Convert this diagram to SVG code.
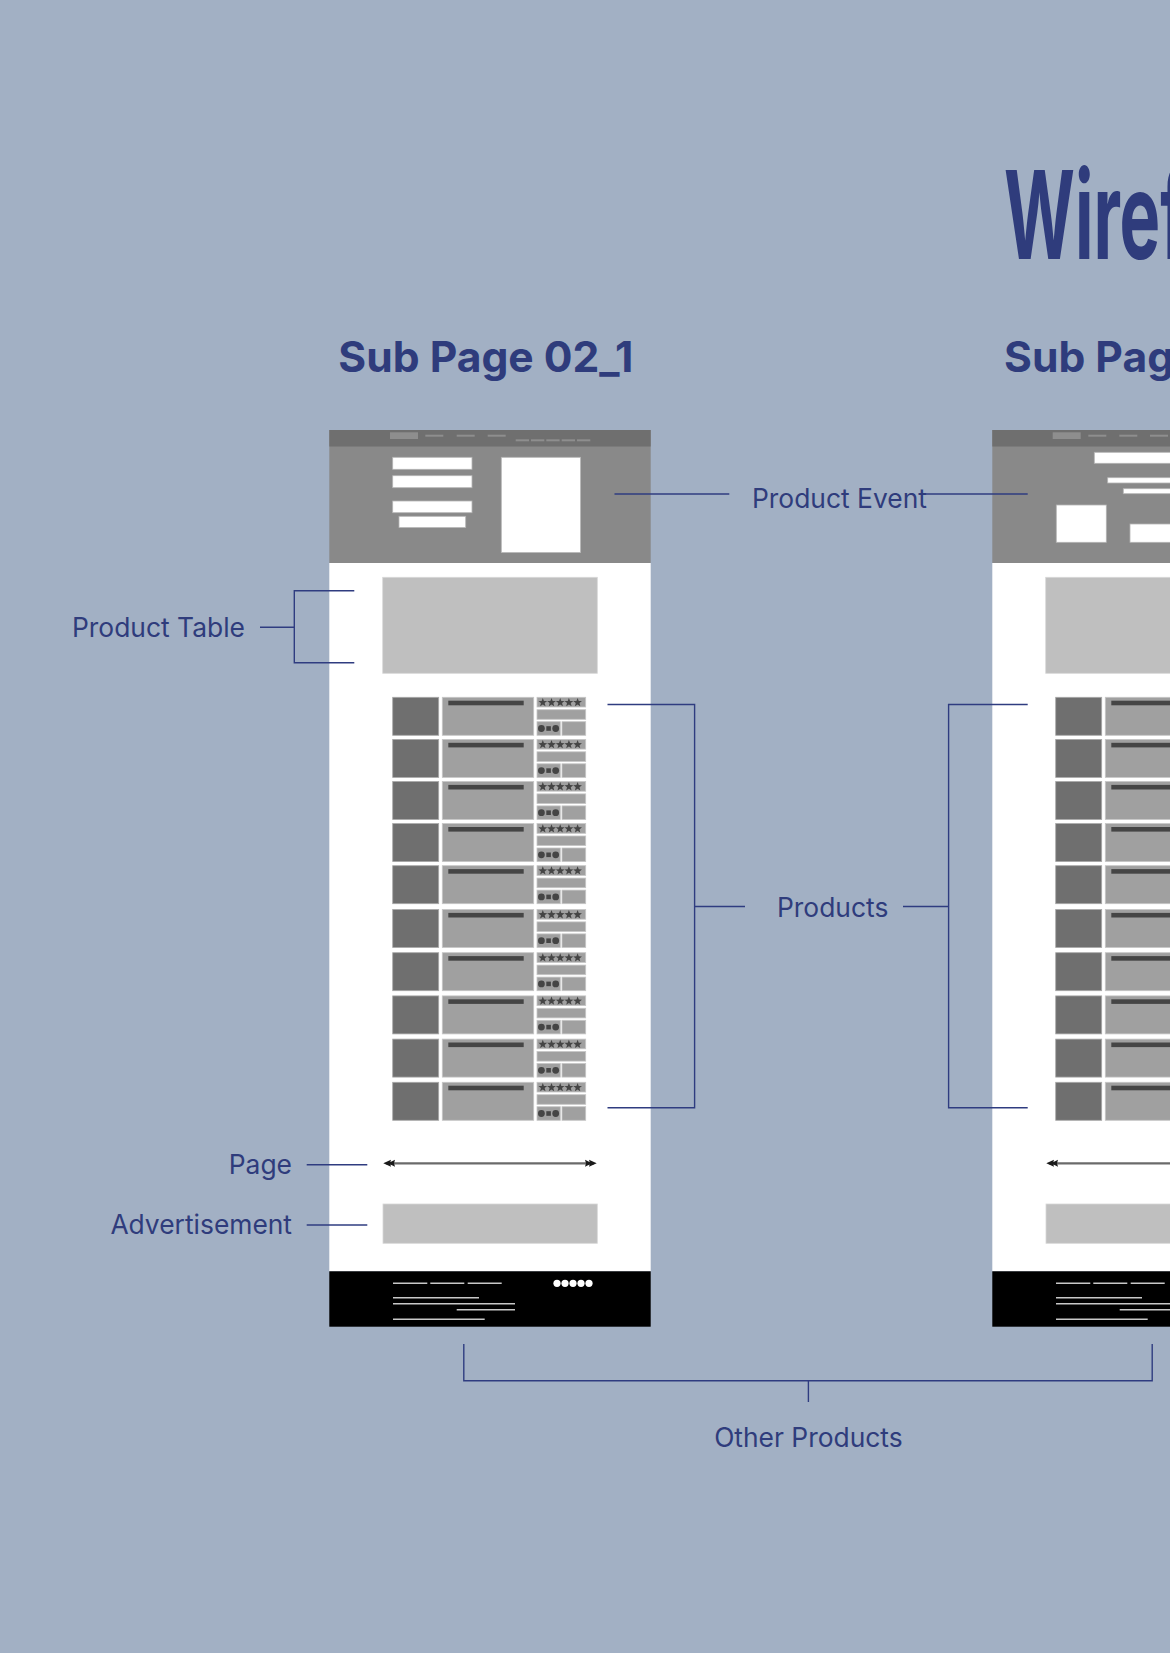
<svg xmlns="http://www.w3.org/2000/svg" xmlns:xlink="http://www.w3.org/1999/xlink" width="1170" height="1653" viewBox="0 0 1170 1653">
  <style>
    .title { font-family: Inter, "Liberation Sans", sans-serif; font-weight: 700; fill: #2f3c7c; }
    .label { font-family: Inter, "Liberation Sans", sans-serif; font-size: 26.4px; fill: #2f3c7c; }
    .conn { fill: none; stroke: #2f3c80; stroke-width: 1.4; }
    .white { fill: #ffffff; stroke: #b4b4b4; stroke-width: 0.8; }
    .thumb { fill: #6f6f6f; stroke: #a8a8a8; stroke-width: 0.8; }
    .cell { fill: #a0a0a0; stroke: #c6c6c6; stroke-width: 0.8; }
    .ink { fill: #454545; }
    .foot { stroke: #c8c8c8; stroke-width: 1.6; }
    .navbit { fill: #8e8e8e; }
  </style>
  <defs>
    <path id="star" d="M0,-4.6 L1.15,-1.59 L4.37,-1.43 L1.86,0.61 L2.7,3.72 L0,1.96 L-2.7,3.72 L-1.86,0.61 L-4.37,-1.43 L-1.15,-1.59 Z"/>
    <!-- one product line: thumbnail, title block, rating block -->
    <g id="row">
      <rect class="thumb" x="392.7" y="0" width="46" height="38"/>
      <rect class="cell" x="442.3" y="0" width="91.4" height="38"/>
      <rect class="ink" x="448.3" y="3.4" width="75.4" height="4.6"/>
      <rect class="cell" x="537" y="0" width="48.7" height="9.7"/>
      <use href="#star" x="542.8" y="5.2" class="ink"/>
      <use href="#star" x="551.5" y="5.2" class="ink"/>
      <use href="#star" x="560.2" y="5.2" class="ink"/>
      <use href="#star" x="568.9" y="5.2" class="ink"/>
      <use href="#star" x="577.6" y="5.2" class="ink"/>
      <rect class="cell" x="537" y="12.4" width="48.7" height="9.6"/>
      <rect class="cell" x="537" y="24.4" width="23.3" height="13.6"/>
      <circle class="ink" cx="541.4" cy="31.2" r="3.4"/>
      <rect class="ink" x="546.3" y="28.9" width="4.6" height="4.6"/>
      <circle class="ink" cx="555.7" cy="31.2" r="3.4"/>
      <rect class="cell" x="562" y="24.4" width="23.7" height="13.6"/>
    </g>
    <!-- page body below the header, drawn for the left page -->
    <g id="pagebody">
      <rect x="329.3" y="563" width="321.4" height="708.3" fill="#ffffff"/>
      <rect x="382.7" y="577.3" width="214.6" height="96" fill="#bfbfbf" stroke="#d8d8d8" stroke-width="0.8"/>
      <use href="#row" y="697.3"/>
      <use href="#row" y="739.4"/>
      <use href="#row" y="781.5"/>
      <use href="#row" y="823.6"/>
      <use href="#row" y="865.7"/>
      <use href="#row" y="909.5"/>
      <use href="#row" y="952.7"/>
      <use href="#row" y="995.9"/>
      <use href="#row" y="1039.1"/>
      <use href="#row" y="1082.3"/>
      <!-- pagination -->
      <line x1="386" y1="1163.3" x2="594" y2="1163.3" stroke="#6a6a6a" stroke-width="2.2"/>
      <path d="M383.3,1163.3 L391,1159.8 L390,1163.3 L391,1166.8 Z M388,1163.3 L395,1159.8 L394,1163.3 L395,1166.8 Z" fill="#1a1a1a"/>
      <path d="M596.7,1163.3 L589,1159.8 L590,1163.3 L589,1166.8 Z M592,1163.3 L585,1159.8 L586,1163.3 L585,1166.8 Z" fill="#1a1a1a"/>
      <!-- advertisement -->
      <rect x="383" y="1204" width="214.3" height="39.3" fill="#bfbfbf" stroke="#d8d8d8" stroke-width="0.8"/>
      <!-- footer -->
      <rect x="329.3" y="1271.3" width="321.4" height="55.4" fill="#000000"/>
      <g class="foot">
        <line x1="393" y1="1283.3" x2="427.3" y2="1283.3"/>
        <line x1="430.3" y1="1283.3" x2="464.3" y2="1283.3"/>
        <line x1="467.7" y1="1283.3" x2="501.7" y2="1283.3"/>
        <line x1="393" y1="1297.7" x2="479" y2="1297.7"/>
        <line x1="393" y1="1303.7" x2="515" y2="1303.7"/>
        <line x1="456.7" y1="1309.7" x2="515" y2="1309.7"/>
        <line x1="393" y1="1319.3" x2="484.7" y2="1319.3"/>
      </g>
      <g fill="#ffffff">
        <circle cx="557" cy="1283.3" r="3.6"/>
        <circle cx="565" cy="1283.3" r="3.6"/>
        <circle cx="573" cy="1283.3" r="3.6"/>
        <circle cx="581" cy="1283.3" r="3.6"/>
        <circle cx="589" cy="1283.3" r="3.6"/>
      </g>
    </g>
  </defs>

  <rect width="1170" height="1653" fill="#a2b0c4"/>

  <!-- headings -->
  <text class="title" x="0" y="259" font-size="122" transform="translate(1004 0) scale(0.56 1) translate(-1004 0)" dx="1004">Wireframe</text>
  <text class="title" x="338.3" y="372.3" font-size="42.6">Sub Page 02_1</text>
  <text class="title" x="1004" y="372.3" font-size="42.6">Sub Page 02_2</text>

  <!-- left page: Sub Page 02_1 -->
  <g id="page-02-1">
    <rect x="329.3" y="430" width="321.4" height="133" fill="#898989"/>
    <rect x="329.3" y="430" width="321.4" height="16.5" fill="#6f6f6f"/>
    <rect class="navbit" x="390" y="432.3" width="28" height="6.7"/>
    <rect class="navbit" x="425.3" y="434.7" width="18" height="2"/>
    <rect class="navbit" x="456.7" y="434.7" width="18" height="2"/>
    <rect class="navbit" x="487.7" y="434.7" width="18" height="2"/>
    <rect class="navbit" x="515.7" y="439.3" width="13.3" height="2"/>
    <rect class="navbit" x="531" y="439.3" width="13.3" height="2"/>
    <rect class="navbit" x="546.3" y="439.3" width="13.3" height="2"/>
    <rect class="navbit" x="561.7" y="439.3" width="13.3" height="2"/>
    <rect class="navbit" x="577" y="439.3" width="13.3" height="2"/>
    <rect class="white" x="392.7" y="457.3" width="79.3" height="12"/>
    <rect class="white" x="392.7" y="475.7" width="79.3" height="12"/>
    <rect class="white" x="392.7" y="501" width="79.3" height="11.7"/>
    <rect class="white" x="399" y="516.3" width="66.7" height="11.3"/>
    <rect class="white" x="501.3" y="457.3" width="79.3" height="95.3"/>
    <use href="#pagebody"/>
  </g>

  <!-- right page: Sub Page 02_2 -->
  <g id="page-02-2">
    <rect x="992.3" y="430" width="321.4" height="133" fill="#898989"/>
    <rect x="992.3" y="430" width="321.4" height="16.5" fill="#6f6f6f"/>
    <rect class="navbit" x="1052.7" y="432.3" width="28" height="6.7"/>
    <rect class="navbit" x="1088.3" y="434.7" width="18" height="2"/>
    <rect class="navbit" x="1119.3" y="434.7" width="18" height="2"/>
    <rect class="navbit" x="1150" y="434.7" width="18" height="2"/>
    <rect class="white" x="1094.3" y="452.3" width="90" height="11"/>
    <rect class="white" x="1107.7" y="477.7" width="80" height="5.3"/>
    <rect class="white" x="1123.3" y="488.7" width="70" height="5"/>
    <rect class="white" x="1056.3" y="505" width="50" height="37.3"/>
    <rect class="white" x="1130" y="524" width="60" height="18.3"/>
    <use href="#pagebody" x="663"/>
  </g>

  <!-- callout lines -->
  <g id="connectors">
    <line class="conn" x1="614.5" y1="494" x2="729.3" y2="494"/>
    <line class="conn" x1="920" y1="494" x2="1027.7" y2="494"/>
    <path class="conn" d="M260,627.3 H294.3 M354.3,590.7 H294.3 V662.7 H354.3"/>
    <path class="conn" d="M607.5,704.5 H694.6 V1107.7 H607.5 M694.6,906.5 H745"/>
    <path class="conn" d="M1027.7,704.5 H948.6 V1107.7 H1027.7 M948.6,906.5 H903"/>
    <line class="conn" x1="306.7" y1="1164.7" x2="367.3" y2="1164.7"/>
    <line class="conn" x1="306.7" y1="1225" x2="367.3" y2="1225"/>
    <path class="conn" d="M463.8,1344 V1380.7 H1152.2 V1344 M808.4,1380.7 V1402"/>
  </g>

  <!-- labels -->
  <g id="labels">
    <text class="label" x="752" y="507.7">Product Event</text>
    <text class="label" x="72" y="636.7">Product Table</text>
    <text class="label" x="777" y="917">Products</text>
    <text class="label" x="292" y="1174" text-anchor="end">Page</text>
    <text class="label" x="292" y="1234" text-anchor="end">Advertisement</text>
    <text class="label" x="808.4" y="1446.5" text-anchor="middle">Other Products</text>
  </g>
</svg>
